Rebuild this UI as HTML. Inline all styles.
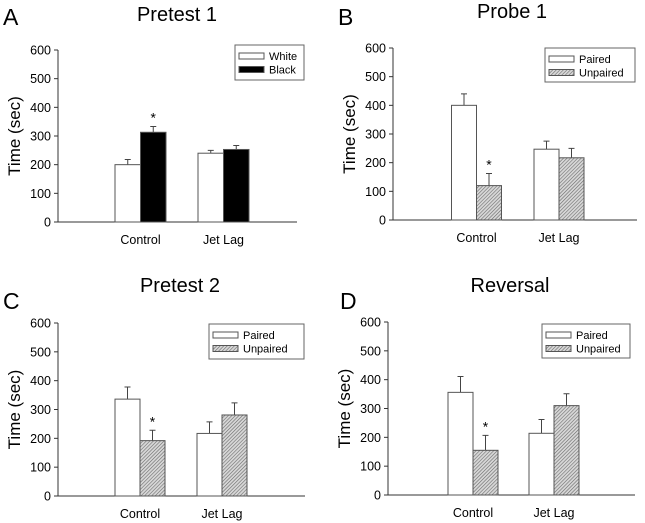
<!DOCTYPE html>
<html><head><meta charset="utf-8"><style>
body{margin:0;background:#fff;}
svg{display:block;font-family:"Liberation Sans",Arial,sans-serif;}
</style></head><body>
<svg id="fig" width="645" height="523" viewBox="0 0 645 523">
<defs>
<pattern id="hatch" patternUnits="userSpaceOnUse" width="2.5" height="2.5" patternTransform="rotate(45)">
<rect width="2.5" height="2.5" fill="#d8d8d8"/><line x1="0" y1="0" x2="0" y2="2.5" stroke="#6a6a6a" stroke-width="1.2"/>
</pattern>
</defs>
</svg>
<script>
const categories = ["Control", "Jet Lag"];
const yTicks = [0, 100, 200, 300, 400, 500, 600];
const titles = ["Pretest 1", "Probe 1", "Pretest 2", "Reversal"];
const letters = ["A", "B", "C", "D"];
const legendLabels = [["White", "Black"], ["Paired", "Unpaired"], ["Paired", "Unpaired"], ["Paired", "Unpaired"]];
const series1Values = [[200, 240], [400, 247], [336, 217], [356, 214]];
const series1Errors = [[18, 10], [40, 28], [42, 40], [55, 48]];
const series2Values = [[313, 253], [120, 217], [192, 281], [155, 310]];
const series2Errors = [[20, 14], [42, 33], [36, 42], [52, 41]];
const starIndex = [[1, 0], [1, 0], [1, 0], [1, 0]]; // series, category

const layouts = [
  {ax:58, x1:297, y0:222, y6:50, bars:[115,198], bw:25.5, lg:[235,45,69,35], tx:177, ty:21, lx:3, ly:25, fill2:"#000"},
  {ax:393, x1:637, y0:220, y6:48, bars:[451.5,534], bw:25, lg:[545,48,90,34], tx:512, ty:18, lx:338, ly:25, fill2:"url(#hatch)"},
  {ax:58, x1:305, y0:496, y6:323, bars:[115,197], bw:25, lg:[209,324,95,35], tx:180, ty:292, lx:3, ly:309, fill2:"url(#hatch)"},
  {ax:388, x1:635, y0:495, y6:322, bars:[448,529], bw:25, lg:[542,324,88,34], tx:510, ty:292, lx:340, ly:309, fill2:"url(#hatch)"}
];
const NS = "http://www.w3.org/2000/svg";
const svg = document.getElementById("fig");
function mk(tag, attrs, parent, text){
  const e = document.createElementNS(NS, tag);
  for (const k in attrs) e.setAttribute(k, attrs[k]);
  if (text !== undefined) e.textContent = text;
  parent.appendChild(e); return e;
}
layouts.forEach((L, p) => {
  const g = mk("g", {}, svg);
  
  
  const y = v => L.y0 - (v / 600) * (L.y0 - L.y6);
  let t = mk("text", {x:L.lx, y:L.ly, "font-size":23}, g, letters[p]);
  
  
  t = mk("text", {x:L.tx, y:L.ty, "font-size":20, "text-anchor":"middle"}, g, titles[p]);
  
  
  let a = mk("line", {x1:L.ax, y1:L.y6, x2:L.ax, y2:L.y0, stroke:"#333", "stroke-width":1}, g);
  
  
  a = mk("line", {x1:L.ax, y1:L.y0, x2:L.x1, y2:L.y0, stroke:"#333", "stroke-width":1}, g);
  
  
  yTicks.forEach(v => {
    const tk = mk("line", {x1:L.ax-4, y1:y(v), x2:L.ax, y2:y(v), stroke:"#333"}, g);
    
    
    const tl = mk("text", {x:L.ax-7, y:y(v)+4.5, "font-size":12.5, "text-anchor":"end"}, g, String(v));
    
    
  });
  const yt = mk("text", {x:0, y:0, "font-size":17, "text-anchor":"middle", transform:`translate(${L.ax-38},${(L.y0+L.y6)/2}) rotate(-90)`}, g, "Time (sec)");
  
  
  categories.forEach((c, i) => {
    const bx = L.bars[i];
    const xl = mk("text", {x:bx + L.bw, y:L.y0+22, "font-size":12.5, "text-anchor":"middle"}, g, c);
    
    
    [[series1Values, series1Errors, "#fff"], [series2Values, series2Errors, L.fill2]].forEach((s, si) => {
      const v = s[0][p][i], e = s[1][p][i];
      const x0 = bx + si * L.bw, cx = x0 + L.bw/2;
      const eb = mk("path", {d:`M${cx},${y(v)}V${y(v+e)}M${cx-3},${y(v+e)}H${cx+3}`, stroke:"#444", fill:"none", "stroke-width":1}, g);
      
      
      const r = mk("rect", {x:x0, y:y(v), width:L.bw, height:L.y0-y(v), fill:s[2], stroke:"#555", "stroke-width":1}, g);
      
      
      if (starIndex[p][0] === si && starIndex[p][1] === i) {
        const st = mk("text", {x:cx, y:y(v+e)-4, "font-size":14, "text-anchor":"middle"}, g, "*");
        
        
      }
    });
  });
  const lg = mk("g", {}, g);
  
  
  const [lx, ly, lw, lh] = L.lg;
  mk("rect", {x:lx, y:ly, width:lw, height:lh, fill:"#fff", stroke:"#666"}, lg);
  [["#fff"], [L.fill2]].forEach((f, k) => {
    const sw = mk("rect", {x:lx+4, y:ly+8+k*13.5, width:25, height:6, fill:f[0], stroke:"#555"}, lg);
    
    
    const lt = mk("text", {x:lx+34, y:ly+15+k*13.5, "font-size":11}, lg, legendLabels[p][k]);
    
    
  });
});
</script>
</body></html>
